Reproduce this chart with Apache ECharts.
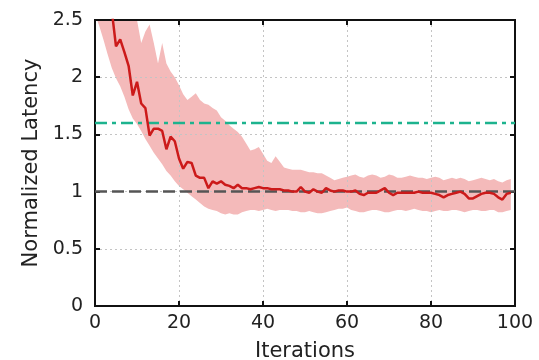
<!DOCTYPE html>
<html>
<head>
<meta charset="utf-8">
<script src="https://cdn.jsdelivr.net/npm/echarts@6/dist/echarts.min.js"></script>
<style>html,body{margin:0;padding:0;background:#fff;}#c{width:539px;height:360px;}</style>
</head>
<body>
<div id="c"></div>
<script>
// Iterations 0..99
const iterations = Array.from({length: 100}, (_, i) => i);
const meanLatency = [
  3.30, 3.10, 2.95, 2.75, 2.58, 2.27, 2.33, 2.22, 2.10, 1.84,
  1.96, 1.77, 1.73, 1.49, 1.55, 1.55, 1.53, 1.37, 1.48, 1.44,
  1.29, 1.20, 1.26, 1.25, 1.14, 1.12, 1.12, 1.03, 1.09, 1.07,
  1.09, 1.06, 1.05, 1.03, 1.06, 1.03, 1.03, 1.02, 1.03, 1.04,
  1.03, 1.03, 1.02, 1.02, 1.02, 1.01, 1.01, 1.00, 1.00, 1.04,
  1.00, 0.99, 1.02, 1.00, 0.99, 1.03, 1.01, 1.00, 1.01, 1.01,
  1.00, 1.00, 1.01, 0.98, 0.97, 0.99, 0.99, 0.99, 1.01, 1.03,
  0.99, 0.97, 0.99, 0.99, 0.99, 0.99, 0.99, 1.00, 0.99, 0.99,
  0.99, 0.98, 0.97, 0.95, 0.97, 0.98, 0.99, 1.00, 0.98, 0.94,
  0.94, 0.96, 0.98, 0.99, 0.99, 0.98, 0.95, 0.93, 0.98, 0.99
];
const upperLatency = [
  3.90, 3.70, 3.50, 3.30, 3.10, 2.95, 2.80, 2.70, 2.62, 2.55,
  2.50, 2.30, 2.40, 2.46, 2.30, 2.12, 2.30, 2.12, 2.05, 2.00,
  1.93, 1.85, 1.80, 1.83, 1.86, 1.80, 1.77, 1.76, 1.73, 1.71,
  1.65, 1.62, 1.58, 1.55, 1.52, 1.48, 1.42, 1.36, 1.37, 1.39,
  1.33, 1.27, 1.25, 1.31, 1.26, 1.21, 1.20, 1.19, 1.19, 1.19,
  1.18, 1.17, 1.17, 1.16, 1.16, 1.14, 1.12, 1.10, 1.11, 1.12,
  1.13, 1.14, 1.15, 1.13, 1.12, 1.14, 1.15, 1.14, 1.12, 1.13,
  1.15, 1.14, 1.12, 1.12, 1.13, 1.14, 1.13, 1.12, 1.12, 1.11,
  1.12, 1.13, 1.12, 1.10, 1.11, 1.12, 1.11, 1.12, 1.11, 1.09,
  1.10, 1.11, 1.12, 1.11, 1.10, 1.11, 1.09, 1.08, 1.10, 1.11
];
const lowerLatency = [
  2.55, 2.45, 2.33, 2.20, 2.08, 1.99, 1.92, 1.83, 1.72, 1.64,
  1.59, 1.53, 1.46, 1.40, 1.34, 1.29, 1.24, 1.18, 1.14, 1.09,
  1.05, 1.02, 0.99, 0.96, 0.93, 0.90, 0.87, 0.85, 0.84, 0.83,
  0.81, 0.80, 0.81, 0.80, 0.80, 0.82, 0.83, 0.84, 0.84, 0.83,
  0.84, 0.85, 0.84, 0.83, 0.84, 0.84, 0.84, 0.83, 0.83, 0.82,
  0.82, 0.83, 0.82, 0.81, 0.81, 0.82, 0.83, 0.84, 0.85, 0.85,
  0.86, 0.84, 0.83, 0.82, 0.82, 0.83, 0.84, 0.84, 0.83, 0.82,
  0.82, 0.83, 0.84, 0.84, 0.83, 0.84, 0.85, 0.84, 0.83, 0.83,
  0.82, 0.83, 0.84, 0.83, 0.83, 0.84, 0.84, 0.83, 0.82, 0.83,
  0.84, 0.84, 0.83, 0.83, 0.84, 0.84, 0.82, 0.82, 0.83, 0.84
];
const referenceX = [0, 100];
const greenLevel = 1.6;
const greyLevel = 1.0;
const xTicks = [0, 20, 40, 60, 80, 100];
const yTicks = [0, 0.5, 1, 1.5, 2, 2.5];

const chart = echarts.init(document.getElementById('c'), null, {renderer: 'canvas'});
const font = 'DejaVu Sans';
const gridLine = {show: true, lineStyle: {color: '#c4c4c4', type: [2, 3], width: 1}};
const bandColor = '#f4baba';
const frameLine = {show: true, onZero: false, lineStyle: {color: '#111', width: 2}};
const frameTick = {show: true, inside: true, length: 5, lineStyle: {color: '#111', width: 2}};

// Band drawn as a polygon through the library's coordinate system
const bandSeries = {
  type: 'custom', z: 1, silent: true, clip: true,
  data: [0],
  renderItem: function (params, api) {
    const pts = [];
    for (let i = 0; i < iterations.length; i++) pts.push(api.coord([iterations[i], upperLatency[i]]));
    for (let i = iterations.length - 1; i >= 0; i--) pts.push(api.coord([iterations[i], lowerLatency[i]]));
    const cs = params.coordSys;
    return {
      type: 'polygon',
      shape: {points: pts},
      style: {fill: bandColor},
      clipPath: {type: 'rect', shape: {x: cs.x, y: cs.y, width: cs.width, height: cs.height}}
    };
  }
};

const option = {
  animation: false,
  backgroundColor: '#fff',
  grid: {left: 95, right: 24, top: 20, bottom: 54, outerBoundsMode: 'none', containLabel: false,
         show: true, borderColor: '#111', borderWidth: 2, backgroundColor: 'transparent'},
  xAxis: [{
    type: 'value', min: xTicks[0], max: xTicks[xTicks.length - 1], interval: 20, z: 3,
    name: 'Iterations', nameLocation: 'middle', nameGap: 35,
    nameTextStyle: {fontFamily: font, fontSize: 21, color: '#222'},
    axisLine: frameLine, axisTick: frameTick,
    axisLabel: {fontFamily: font, fontSize: 19, color: '#222', margin: 8},
    splitLine: gridLine
  }, {
    type: 'value', position: 'top', min: 0, max: 100, interval: 20, z: 3,
    axisLine: frameLine, axisTick: frameTick,
    axisLabel: {show: false}, splitLine: {show: false}
  }],
  yAxis: [{
    type: 'value', min: yTicks[0], max: yTicks[yTicks.length - 1], interval: 0.5, z: 3,
    name: 'Normalized Latency', nameLocation: 'middle', nameGap: 50,
    nameTextStyle: {fontFamily: font, fontSize: 21, color: '#222'},
    axisLine: frameLine, axisTick: frameTick,
    axisLabel: {fontFamily: font, fontSize: 19, color: '#222', margin: 12},
    splitLine: gridLine
  }, {
    type: 'value', position: 'right', min: 0, max: 2.5, interval: 0.5, z: 3,
    axisLine: frameLine, axisTick: frameTick,
    axisLabel: {show: false}, splitLine: {show: false}
  }],
  series: [
    bandSeries,
    {
      type: 'line', symbol: 'none', z: 4,
      data: referenceX.map(x => [x, greenLevel]),
      lineStyle: {color: '#1db38e', width: 2.5, type: [12, 5, 4, 5]}
    },
    {
      type: 'line', symbol: 'none', z: 4,
      data: referenceX.map(x => [x, greyLevel]),
      lineStyle: {color: '#555', width: 2.5, type: [12, 5]}
    },
    {
      type: 'line', symbol: 'none', z: 5,
      data: iterations.map((x, i) => [x, meanLatency[i]]),
      lineStyle: {color: '#cc1a1a', width: 2.5}
    }
  ]
};
chart.setOption(option);
</script>
</body>
</html>
